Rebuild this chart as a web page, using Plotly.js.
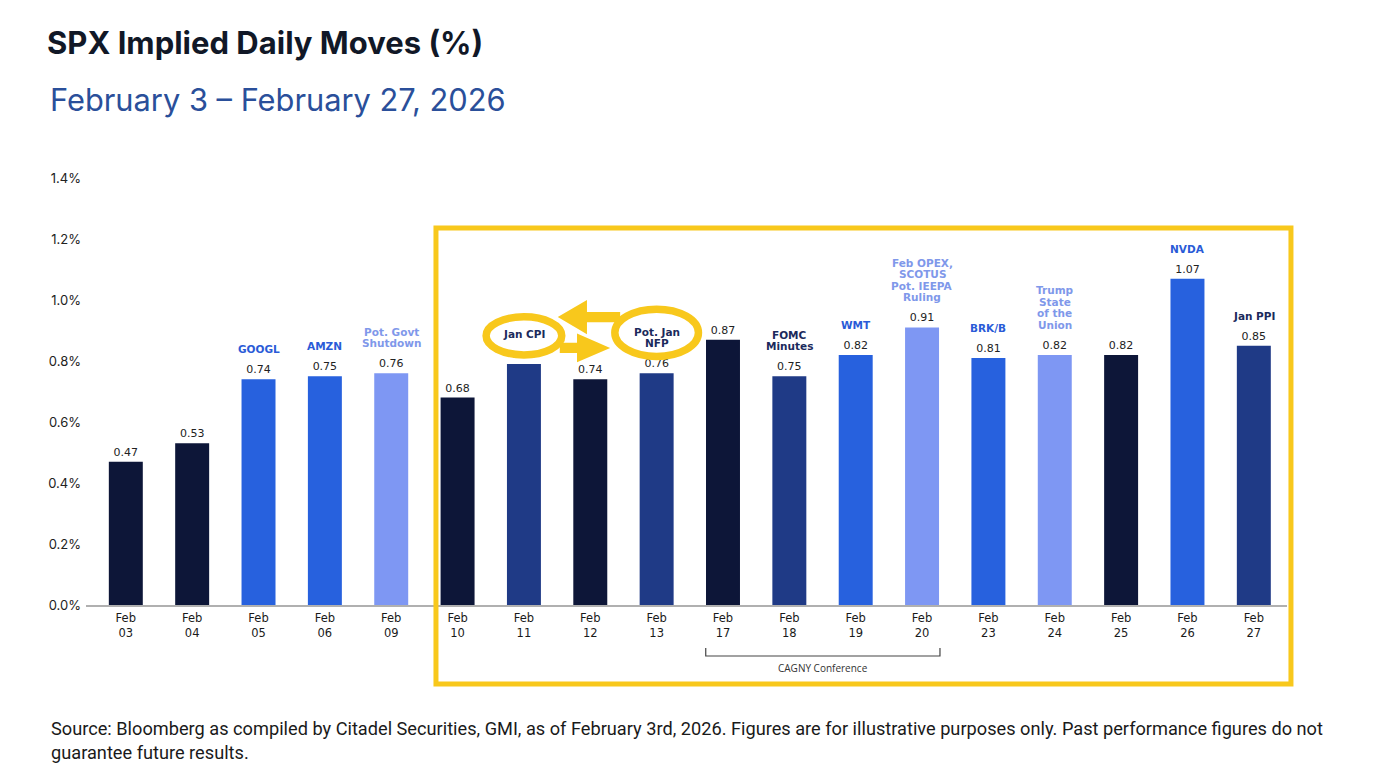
<!DOCTYPE html>
<html>
<head>
<meta charset="utf-8">
<script src="https://cdn.plot.ly/plotly-3.0.1.min.js"></script>
<style>
  html, body { margin: 0; padding: 0; background: #ffffff; }
  #chart { width: 1376px; height: 768px; }
</style>
</head>
<body>
<div id="chart"></div>
<script>
// Trading days shown on the axis
const days = ['03', '04', '05', '06', '09', '10', '11', '12', '13', '17', '18', '19', '20', '23', '24', '25', '26', '27'];
const month = 'Feb';

// SPX implied daily move, in percent
const impliedMove = [0.47, 0.53, 0.74, 0.75, 0.76, 0.68, 0.79, 0.74, 0.76, 0.87, 0.75, 0.82, 0.91, 0.81, 0.82, 0.82, 1.07, 0.85];

// Scheduled catalyst for each day ('' = none)
const catalysts = ['', '', 'GOOGL', 'AMZN', 'Pot. Govt<br>Shutdown', '', 'Jan CPI', '', 'Pot. Jan<br>NFP', '',
  'FOMC<br>Minutes', 'WMT', 'Feb OPEX,<br>SCOTUS<br>Pot. IEEPA<br>Ruling', 'BRK/B', 'Trump<br>State<br>of the<br>Union', '', 'NVDA', 'Jan PPI'];

// Event category per day, drives bar and label colour
const eventType = ['none', 'none', 'earnings', 'earnings', 'policy', 'none', 'macro', 'none', 'macro', 'none',
  'macro', 'earnings', 'policy', 'earnings', 'policy', 'none', 'earnings', 'macro'];

// Y axis ticks
const yTicks = [0, 0.2, 0.4, 0.6, 0.8, 1.0, 1.2, 1.4];

const barPalette = { none: '#0d1638', macro: '#1f3a86', earnings: '#2761de', policy: '#7e97f3' };
const labelPalette = { none: '#0d1638', macro: '#1b2a5c', earnings: '#2a5bd7', policy: '#7f98ea' };
const yellow = '#f8c81c';

const xs = days.map((d, i) => i);
const tickText = days.map(d => month + '<br>' + d);

const trace = {
  type: 'bar',
  x: xs,
  y: impliedMove,
  marker: { color: eventType.map(t => barPalette[t]), line: { width: 0 } },
  text: impliedMove.map(v => v.toFixed(2)),
  textposition: 'outside',
  textfont: { family: 'DejaVu Sans', size: 11, color: '#222222' },
  constraintext: 'none',
  cliponaxis: false,
  hoverinfo: 'x+y'
};

const annotations = [];
const lineStep = 11.5;
catalysts.forEach((c, i) => {
  if (!c) return;
  const lines = c.split('<br>');
  lines.forEach((ln, k) => {
    annotations.push({
      x: xs[i], y: impliedMove[i], xref: 'x', yref: 'y',
      text: '<b>' + ln + '</b>', showarrow: false,
      xanchor: 'center', yanchor: 'bottom',
      yshift: 22 + (lines.length - 1 - k) * lineStep,
      font: { family: 'DejaVu Sans', size: 10.5, color: labelPalette[eventType[i]] }
    });
  });
});

// Subtitle and footnote
annotations.push({
  xref: 'paper', yref: 'paper', x: -0.0316, y: 1.1827, xanchor: 'left', yanchor: 'middle',
  text: 'February 3 \u2013 February 27, 2026', showarrow: false,
  font: { family: 'Inter', size: 30.8, color: '#2a4f9a' }
});
annotations.push({
  xref: 'paper', yref: 'paper', x: -0.0305, y: -0.3185, xanchor: 'left', yanchor: 'middle', align: 'left',
  text: 'Source: Bloomberg as compiled by Citadel Securities, GMI, as of February 3rd, 2026. Figures are for illustrative purposes only. Past performance figures do not<br>guarantee future results.',
  showarrow: false,
  font: { family: 'Roboto', size: 18.2, color: '#1a1a1a' }
});
// Conference bracket label
annotations.push({
  xref: 'x', yref: 'paper', x: 10.5, y: -0.1475, xanchor: 'center', yanchor: 'middle',
  text: 'CAGNY Conference', showarrow: false,
  font: { family: 'Open Sans', size: 10, color: '#333333' }
});

// Block arrow pointing from tail to tip, horizontal, in data units
function blockArrow(tailX, tipX, yMid, shaftHalf, headHalf, headLen) {
  const dir = Math.sign(tipX - tailX);
  const baseX = tipX - dir * headLen;
  return 'M ' + tailX + ',' + (yMid + shaftHalf) +
    ' L ' + baseX + ',' + (yMid + shaftHalf) +
    ' L ' + baseX + ',' + (yMid + headHalf) +
    ' L ' + tipX + ',' + yMid +
    ' L ' + baseX + ',' + (yMid - headHalf) +
    ' L ' + baseX + ',' + (yMid - shaftHalf) +
    ' L ' + tailX + ',' + (yMid - shaftHalf) + ' Z';
}

const shapes = [
  // highlighted window
  { type: 'rect', xref: 'paper', yref: 'paper', x0: 0.2914, x1: 1.0033, y0: -0.185, y1: 0.883,
    line: { color: yellow, width: 5 }, fillcolor: 'rgba(0,0,0,0)', layer: 'above' },
  // arrows between CPI and NFP
  { type: 'path', xref: 'x', yref: 'y', path: blockArrow(7.45, 6.51, 0.944, 0.017, 0.056, 0.44),
    fillcolor: yellow, line: { width: 0 }, layer: 'above' },
  { type: 'path', xref: 'x', yref: 'y', path: blockArrow(6.54, 7.30, 0.843, 0.017, 0.047, 0.5),
    fillcolor: yellow, line: { width: 0 }, layer: 'above' },
  // rings around the data releases
  { type: 'circle', xref: 'x', yref: 'y', x0: 5.43, x1: 6.57, y0: 0.82, y1: 0.945,
    line: { color: yellow, width: 7.5 }, fillcolor: '#ffffff', layer: 'above' },
  { type: 'circle', xref: 'x', yref: 'y', x0: 7.37, x1: 8.63, y0: 0.815, y1: 0.97,
    line: { color: yellow, width: 7.5 }, fillcolor: '#ffffff', layer: 'above' },
  // CAGNY bracket
  { type: 'path', xref: 'x', yref: 'paper',
    path: 'M 8.74,-0.1007 L 8.74,-0.1194 L 12.27,-0.1194 L 12.27,-0.1007',
    line: { color: '#444444', width: 1.2 }, layer: 'above' }
];

const layout = {
  width: 1376, height: 768,
  paper_bgcolor: '#ffffff', plot_bgcolor: '#ffffff',
  margin: { l: 86, r: 89, t: 178, b: 163 },
  title: {
    text: '<b>SPX Implied Daily Moves (%)</b>',
    font: { family: 'Inter', size: 31, color: '#111827' },
    xref: 'container', yref: 'container', x: 0.0342, y: 0.944, xanchor: 'left', yanchor: 'middle'
  },
  showlegend: false,
  bargap: 0.488,
  xaxis: {
    type: 'linear', range: [-0.6, 17.5],
    tickvals: xs, ticktext: tickText,
    showgrid: false, zeroline: false,
    showline: true, linecolor: '#b0b0b0', linewidth: 1.5,
    ticks: '', ticklabelstandoff: 2,
    tickfont: { family: 'DejaVu Sans', size: 11.5, color: '#1a1a1a' }
  },
  yaxis: {
    range: [0, 1.4],
    tickvals: yTicks, ticktext: yTicks.map(v => v.toFixed(1) + '%'),
    showgrid: false, zeroline: false, showline: false, ticks: '',
    ticklabelstandoff: 4,
    tickfont: { family: 'Inter', size: 13, color: '#222222' }
  },
  annotations: annotations,
  shapes: shapes
};

Plotly.newPlot('chart', [trace], layout, { displayModeBar: false, staticPlot: true });
</script>
</body>
</html>
